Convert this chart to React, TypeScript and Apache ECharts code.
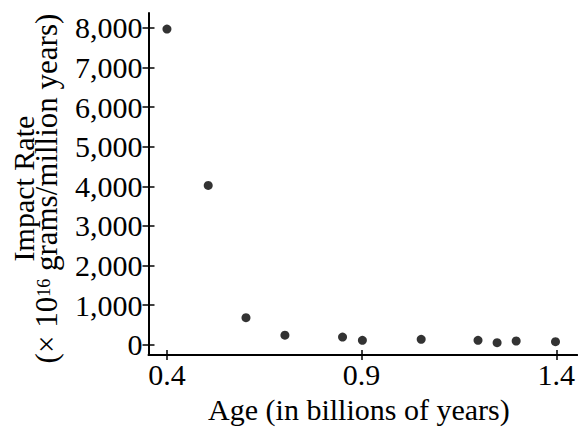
import React, { useEffect, useRef } from "react";
import * as echarts from "echarts";

const ages = [0.4, 0.506, 0.603, 0.703, 0.851, 0.902, 1.053, 1.199, 1.248, 1.297, 1.398];
const impactRates = [7970, 4025, 687, 245, 196, 115, 140, 115, 56, 98, 81];
const xTicks = [0.4, 0.9, 1.4];
const yTicks = [0, 1000, 2000, 3000, 4000, 5000, 6000, 7000, 8000];

const FONT = "'Liberation Serif', 'Times New Roman', serif";

export default function App() {
  const ref = useRef<HTMLDivElement>(null);
  useEffect(() => {
    if (!ref.current) return;
    const chart = echarts.init(ref.current, null, { renderer: "svg" });
    const points = ages.map((a, i) => [a, impactRates[i]]);
    const xRange = { min: 0.3526, max: 1.454 };
    const yRange = { min: -258, max: 8375 };
    chart.setOption({
      animation: false,
      backgroundColor: "#ffffff",
      textStyle: { fontFamily: FONT },
      grid: { left: 148, right: 0, top: 13, bottom: 64.5, containLabel: false },
      xAxis: [
        {
          type: "value",
          ...xRange,
          position: "bottom",
          name: "Age (in billions of years)",
          nameLocation: "middle",
          nameGap: 31,
          nameTextStyle: { fontFamily: FONT, fontSize: 30, color: "#000", padding: [0, 8, 0, 0] },
          axisLine: { show: true, onZero: false, lineStyle: { color: "#000", width: 2 } },
          axisTick: { show: true, length: 5, inside: false, customValues: xTicks, lineStyle: { color: "#000", width: 1.5 } },
          axisLabel: {
            show: true,
            customValues: xTicks,
            margin: 4,
            fontFamily: FONT,
            fontSize: 30,
            color: "#000",
            formatter: (v: number) => v.toFixed(1),
          },
          splitLine: { show: false },
        },
        {
          type: "value",
          ...xRange,
          position: "bottom",
          axisLine: { show: false, onZero: false },
          axisTick: { show: true, length: 5, inside: true, customValues: xTicks, lineStyle: { color: "#000", width: 1.5 } },
          axisLabel: { show: false },
          splitLine: { show: false },
        },
      ],
      yAxis: [
        {
          type: "value",
          ...yRange,
          position: "left",
          name: "{a|Impact Rate}\n{b|(× 10}{s|16}{b| grams/million years)}",
          nameLocation: "middle",
          nameRotate: 90,
          nameGap: 91,
          nameTextStyle: {
            fontFamily: FONT,
            color: "#000",
            padding: [0, 9, 0, 0],
            rich: {
              a: { fontFamily: FONT, fontSize: 30, lineHeight: 23, color: "#000" },
              b: { fontFamily: FONT, fontSize: 31, lineHeight: 23, color: "#000" },
              s: { fontFamily: FONT, fontSize: 18, lineHeight: 4, verticalAlign: "top", color: "#000" },
            },
          },
          axisLine: { show: true, onZero: false, lineStyle: { color: "#000", width: 2 } },
          axisTick: { show: true, length: 6, inside: false, customValues: yTicks, lineStyle: { color: "#000", width: 1.5 } },
          axisLabel: {
            show: true,
            customValues: yTicks,
            margin: 6,
            fontFamily: FONT,
            fontSize: 30,
            color: "#000",
            formatter: (v: number) => v.toLocaleString("en-US"),
          },
          splitLine: { show: false },
        },
        {
          type: "value",
          ...yRange,
          position: "left",
          axisLine: { show: false, onZero: false },
          axisTick: { show: true, length: 6, inside: true, customValues: yTicks, lineStyle: { color: "#000", width: 1.5 } },
          axisLabel: { show: false },
          splitLine: { show: false },
        },
      ],
      series: [
        {
          type: "scatter",
          xAxisIndex: 0,
          yAxisIndex: 0,
          data: points,
          symbol: "circle",
          symbolSize: 9,
          itemStyle: { color: "#000" },
          silent: true,
        },
      ],
    });
    return () => chart.dispose();
  }, []);
  return (
    <div
      ref={ref}
      style={{ position: "absolute", left: 0, top: 0, width: 578, height: 429, background: "#fff" }}
    />
  );
}
